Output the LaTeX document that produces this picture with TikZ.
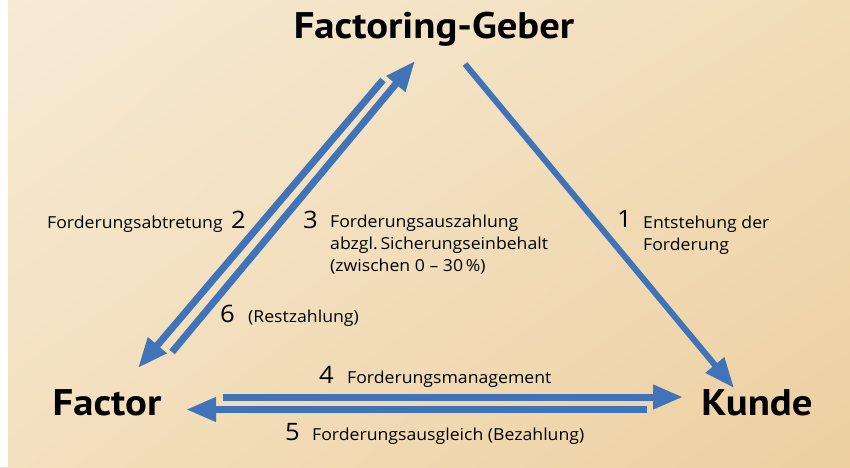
\documentclass[tikz,border=0pt]{standalone}
\usepackage{fontspec}
\setmainfont{Open Sans}[FakeStretch=1.07]
\newfontfamily\titlefont{PT Sans}[FakeStretch=1.1]
\usetikzlibrary{arrows.meta,shadings}
\definecolor{arrowblue}{RGB}{65,115,185}
\definecolor{bgTL}{RGB}{246,235,214}
\definecolor{bgTR}{RGB}{241,221,184}
\definecolor{bgBL}{RGB}{243,224,190}
\definecolor{bgBR}{RGB}{237,207,160}
\tikzset{
  flow/.style={draw=arrowblue, line width=7pt, -{Triangle[length=30pt,width=23pt]}},
  title/.style={font=\titlefont\fontsize{37}{40}\selectfont\bfseries, inner sep=0pt, anchor=base},
  lbl/.style={font=\fontsize{16.5}{22}\selectfont, inner sep=0pt, anchor=base west, align=left},
  num/.style={font=\fontsize{24}{24}\selectfont, inner sep=0pt, anchor=base west},
}
\begin{document}
\begin{tikzpicture}[x=1pt,y=-1pt]
\useasboundingbox (0,0) rectangle (850,467);
\shade[upper left=bgTL, upper right=bgTR, lower left=bgBL, lower right=bgBR] (0,0) rectangle (850,467);
\fill[white] (0,0) rectangle (8,467);

\node[title] (geber) at (434,38.5) {Factoring-Geber};
\node[title] (factor) at (107,415) {Factor};
\node[title] (kunde) at (757,415) {Kunde};

% endpoints
\coordinate (a2s) at (383,80);
\coordinate (a2e) at (138,368);
\coordinate (a3s) at (172,352);
\coordinate (a3e) at (415,61);
\coordinate (a1s) at (465,64);
\coordinate (a1e) at (734,388);
\coordinate (a4s) at (223,397);
\coordinate (a4e) at (683,397);
\coordinate (a5s) at (647,409.5);
\coordinate (a5e) at (186,409.5);

\draw[flow] (a2s) -- (a2e);
\draw[flow] (a3s) -- (a3e);
\draw[flow, line width=6pt] (a1s) -- (a1e);
\draw[flow] (a4s) -- (a4e);
\draw[flow] (a5s) -- (a5e);

\node[lbl] (l2) at (47,228) {Forderungsabtretung};
\node[num] (n2) at (231,228) {2};
\node[num] (n3) at (303,228) {3};
\node[lbl] (l3) at (330,271) {Forderungsauszahlung\\abzgl.\,Sicherungseinbehalt\\(zwischen 0 – 30\,\%)};
\node[num] (n1) at (617,227) {1};
\node[lbl] (l1) at (643,250) {Entstehung der\\Forderung};
\node[num] (n6) at (220,322) {6};
\node[lbl] (l6) at (248,322) {(Restzahlung)};
\node[num] (n4) at (319,383) {4};
\node[lbl] (l4) at (347,383) {Forderungsmanagement};
\node[num] (n5) at (285,440) {5};
\node[lbl] (l5) at (312,440) {Forderungsausgleich (Bezahlung)};
\end{tikzpicture}
\end{document}
